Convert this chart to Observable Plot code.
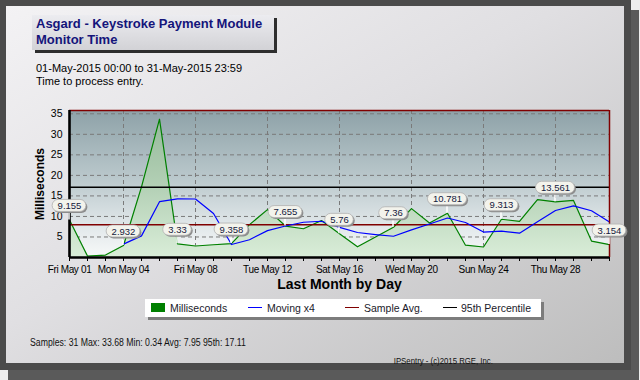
<!DOCTYPE html>
<html><head><meta charset="utf-8">
<script src="https://cdn.jsdelivr.net/npm/d3@7"></script>
<script src="https://cdn.jsdelivr.net/npm/@observablehq/plot@0.6"></script>
<style>
html,body{margin:0;padding:0;width:640px;height:380px;overflow:hidden;background:#eeeeee;font-family:"Liberation Sans",Arial,sans-serif;}
#frame{position:absolute;left:0;top:0;width:618px;height:357px;border-style:solid;border-color:#4b4b4b;border-width:6px 7px 7px 6px;background:linear-gradient(to bottom right,#f3f2f4 0%,#e0dfe2 45%,#bdbdbd 100%);box-shadow:8px 10px 0 #5a5a5a;}
#title{position:absolute;left:32px;top:15px;height:35px;padding-left:4px;background:linear-gradient(#ececf0,#d2d2d6);box-shadow:3px 3px 0 #2e2e2e;color:#14147a;font-weight:bold;font-size:13px;line-height:16px;padding-top:1px;box-sizing:border-box;width:242px;}
.sub{position:absolute;left:36px;font-size:11px;color:#000;white-space:nowrap;}
#chart{position:absolute;left:0;top:90px;width:640px;height:210px;}
#chart g[aria-label="x-axis tick label"]{letter-spacing:-0.35px;}
#legend{position:absolute;left:145px;top:299px;width:396px;height:18px;background:#fff;box-shadow:3px 3px 0 #7c7c7c;font-size:10.5px;color:#1a1a2a;}
#legend span{position:absolute;top:3px;line-height:12px;white-space:nowrap;}
#legend i{position:absolute;display:block;}
.foot{position:absolute;white-space:nowrap;color:#111;}
</style>
</head><body>
<div id="frame"></div>
<div id="title">Asgard - Keystroke Payment Module<br>Monitor Time</div>
<div class="sub" style="top:62px">01-May-2015 00:00 to 31-May-2015 23:59</div>
<div class="sub" style="top:74.5px">Time to process entry.</div>
<div id="chart"></div>
<div id="legend">
  <i style="left:6px;top:4px;width:14px;height:9px;background:#008000"></i><span style="left:25px">Milliseconds</span>
  <i style="left:103px;top:8px;width:14px;height:1.2px;background:#0000ff"></i><span style="left:122px">Moving x4</span>
  <i style="left:200px;top:8px;width:14px;height:1.2px;background:#800000"></i><span style="left:219px">Sample Avg.</span>
  <i style="left:298px;top:8px;width:14px;height:1.2px;background:#000"></i><span style="left:316px">95th Percentile</span>
</div>
<div class="foot" style="left:30px;top:337px;font-size:10px;transform:scaleX(0.87);transform-origin:left top;">Samples: 31 Max: 33.68 Min: 0.34 Avg: 7.95 95th: 17.11</div>
<div class="foot" style="right:147px;top:355px;font-size:9.5px;transform:scaleX(0.82);transform-origin:right top;">IPSentry - (c)2015 RGE, Inc.</div>
<script>
const dayOfMonth = [1,2,3,4,5,6,7,8,9,10,11,12,13,14,15,16,17,18,19,20,21,22,23,24,25,26,27,28,29,30,31];
const milliseconds = [9.155,0.34,0.6,2.932,17.2,33.68,3.33,2.8,3.1,3.4,8.0,11.65,7.655,7.0,9.0,5.76,2.6,5.0,7.36,11.9,8.4,10.781,3.0,2.56,9.313,8.8,14.1,13.561,13.9,4.0,3.154];
const movingX4 = [null,null,null,3.26,5.27,13.6,14.29,14.25,10.73,3.16,4.33,6.54,7.68,8.58,8.83,7.35,6.09,5.59,5.18,6.72,8.17,9.61,8.52,6.19,6.41,5.92,8.69,11.44,12.59,11.39,8.65];
const labelDays = [1,4,7,10,13,16,19,22,25,28,31];
const labelTexts = ["9.155","2.932","3.33","9.358","7.655","5.76","7.36","10.781","9.313","13.561","3.154"];
const sampleAvg = 7.95;
const percentile95 = 17.11;
const yTicks = [5,10,15,20,25,30,35];
const xTickDays = [1,4,8,12,16,20,24,28];
const yMax = 35.8;

const day = d => new Date(Date.UTC(2015, 4, d));
const rows = dayOfMonth.map((d, i) => ({date: day(d), ms: milliseconds[i], mov: movingX4[i]}));
const labels = labelDays.map((d, i) => ({date: day(d), ms: milliseconds[d - 1], text: labelTexts[i]}));

const defs = () => {
  const s = d3.create("svg:defs");
  const bg = s.append("linearGradient").attr("id", "bgGrad").attr("x1", 0).attr("y1", 0).attr("x2", 0).attr("y2", 1);
  [[0, "#8ea2a8"], [0.45, "#b9c7cb"], [0.8, "#e3e9eb"], [1, "#f7f9f9"]].forEach(([o, c]) => bg.append("stop").attr("offset", o).attr("stop-color", c));
  const ar = s.append("linearGradient").attr("id", "areaGrad").attr("gradientUnits", "userSpaceOnUse").attr("x1", 0).attr("y1", 20).attr("x2", 0).attr("y2", 167);
  [[0, "#92b798"], [0.5, "#b2cfb4"], [1, "#d9edd8"]].forEach(([o, c]) => ar.append("stop").attr("offset", o).attr("stop-color", c));
  return s.node();
};

const chart = Plot.plot({
  width: 640, height: 210,
  marginTop: 20, marginBottom: 43, marginLeft: 69, marginRight: 31,
  x: {type: "utc", domain: [day(1), day(31)], label: null},
  y: {domain: [0, yMax], label: null},
  style: {fontFamily: "'Liberation Sans', Arial, sans-serif", fontSize: "10px", color: "#000", background: "transparent", overflow: "visible"},
  marks: [
    defs,
    Plot.frame({fill: "url(#bgGrad)", stroke: "none"}),
    Plot.ruleY(yTicks, {stroke: "#7a7a7a", strokeDasharray: "4,3"}),
    Plot.ruleX(xTickDays.map(day), {stroke: "#7a7a7a", strokeDasharray: "4,3"}),
    Plot.areaY(rows, {x: "date", y: "ms", fill: "url(#areaGrad)"}),
    Plot.line(rows, {x: "date", y: "ms", stroke: "#008000", strokeWidth: 1.2}),
    Plot.ruleY([sampleAvg], {stroke: "#800000", strokeWidth: 1.5}),
    Plot.ruleY([percentile95], {stroke: "#000", strokeWidth: 1.5}),
    Plot.line(rows, {x: "date", y: "mov", stroke: "#0000ff", strokeWidth: 1.2}),
    Plot.ruleY([yMax], {stroke: "#800000", strokeWidth: 1.5}),
    Plot.ruleX([day(31)], {stroke: "#800000", strokeWidth: 1.5}),
    Plot.ruleX([day(1)], {stroke: "#000", strokeWidth: 2.6}),
    Plot.ruleY([0], {stroke: "#000", strokeWidth: 2.6}),
    Plot.ruleX(dayOfMonth.map(day), {y1: 0, y2: 0, insetBottom: -4, stroke: "#000"}),
    Plot.axisY({ticks: yTicks, tickSize: 0, tickPadding: 7, fontSize: 10.5}),
    Plot.axisX({ticks: xTickDays.map(day), tickSize: 0, tickPadding: 8, fontSize: 10, tickFormat: d3.utcFormat("%a %b %d")}),
    Plot.text(["Milliseconds"], {frameAnchor: "left", textAnchor: "middle", lineAnchor: "middle", rotate: -90, dx: -29, fontSize: 12, fontWeight: "bold"}),
    Plot.text(["Last Month by Day"], {frameAnchor: "bottom", textAnchor: "middle", lineAnchor: "middle", dy: 27, fontSize: 14, fontWeight: "bold"}),
    Plot.text(labels, {x: "date", y: "ms", text: "text", dy: -14, fontSize: 9.5, fill: "#14203c"})
  ]
});
document.getElementById("chart").appendChild(chart);

// pill boxes and pointers behind the point labels
const xs = chart.scale("x"), ys = chart.scale("y");
const textGroups = chart.querySelectorAll('g[aria-label="text"]');
const labelGroup = textGroups[textGroups.length - 1];
const texts = labelGroup.querySelectorAll("text");
const layerNode = document.createElementNS("http://www.w3.org/2000/svg", "g");
chart.insertBefore(layerNode, labelGroup);
const layer = d3.select(layerNode);
labels.forEach((l, i) => {
  const w = texts[i] ? texts[i].getBBox().width : 24;
  const cx = xs.apply(l.date), py = ys.apply(l.ms), cy = py - 14;
  layer.append("line").attr("x1", cx).attr("x2", cx).attr("y1", cy + 6).attr("y2", py).attr("stroke", "#fff").attr("stroke-width", 1.5);
  layer.append("rect").attr("x", cx - w / 2 - 5 + 1.5).attr("y", cy - 6 + 1.5).attr("width", w + 10).attr("height", 12).attr("rx", 6).attr("fill", "#8c8c8c");
  layer.append("rect").attr("x", cx - w / 2 - 5).attr("y", cy - 6).attr("width", w + 10).attr("height", 12).attr("rx", 6).attr("fill", "#f3f3ec").attr("stroke", "#b0b0b0").attr("stroke-width", 0.8);
});
</script>
</body></html>
